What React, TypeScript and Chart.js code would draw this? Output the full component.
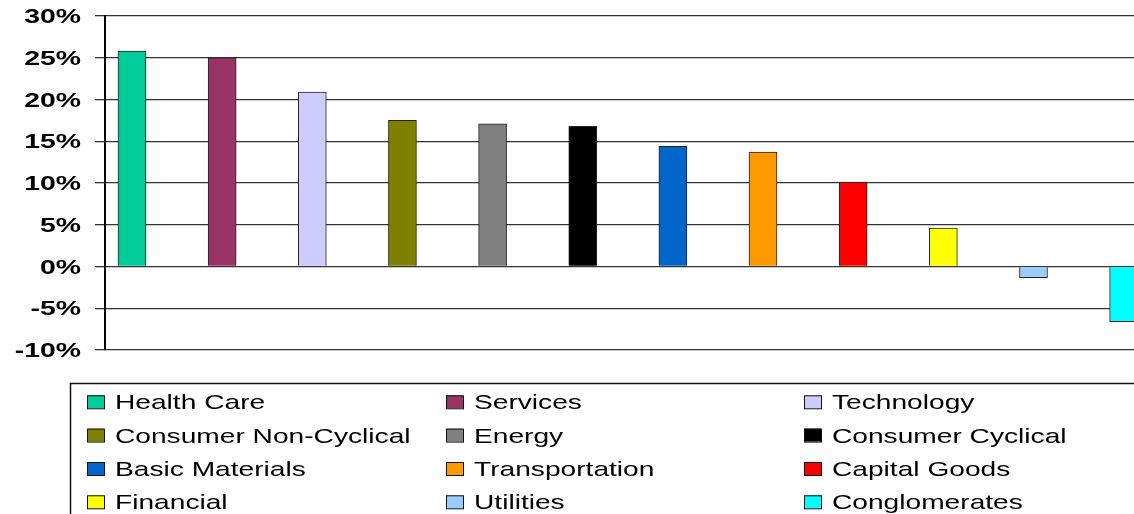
import React, { useEffect, useRef } from "react";
import { Chart, registerables } from "chart.js";

Chart.register(...registerables);

const sectors = [
  "Health Care",
  "Services",
  "Technology",
  "Consumer Non-Cyclical",
  "Energy",
  "Consumer Cyclical",
  "Basic Materials",
  "Transportation",
  "Capital Goods",
  "Financial",
  "Utilities",
  "Conglomerates",
];
const returns = [25.8, 25.0, 20.9, 17.5, 17.1, 16.8, 14.4, 13.7, 10.1, 4.6, -1.35, -6.6];
const colors = [
  "#00CC99",
  "#993366",
  "#CCCCFF",
  "#808000",
  "#808080",
  "#000000",
  "#0066CC",
  "#FF9900",
  "#FF0000",
  "#FFFF00",
  "#99CCFF",
  "#00FFFF",
];
const yTickValues = [30, 25, 20, 15, 10, 5, 0, -5, -10];
const yTickLabels = ["30%", "25%", "20%", "15%", "10%", "5%", "0%", "-5%", "-10%"];

const FONT = '"Liberation Sans", Arial, sans-serif';

const tickLabelPlugin = {
  id: "stretchedTickLabels",
  afterDraw(chart: any) {
    const ctx = chart.ctx;
    const y = chart.scales.y;
    ctx.save();
    ctx.fillStyle = "#000";
    ctx.font = `bold 20px ${FONT}`;
    ctx.textAlign = "right";
    ctx.textBaseline = "alphabetic";
    yTickValues.forEach((v, i) => {
      const py = y.getPixelForValue(v);
      ctx.save();
      ctx.translate(81, py + 7.2);
      ctx.scale(1.42, 1);
      ctx.fillText(yTickLabels[i], 0, 0);
      ctx.restore();
    });
    ctx.restore();
  },
};

const boxLegendPlugin = {
  id: "boxLegend",
  afterDraw(chart: any) {
    const ctx = chart.ctx;
    ctx.save();
    ctx.strokeStyle = "#111";
    ctx.lineWidth = 1.5;
    ctx.strokeRect(70.5, 383.5, 2000, 500);
    const colX = [87, 446, 804];
    const rowBase = [409.3, 442.6, 476, 509.3];
    ctx.font = `21px ${FONT}`;
    ctx.textAlign = "left";
    ctx.textBaseline = "alphabetic";
    chart.data.datasets.forEach((ds: any, i: number) => {
      const c = i % 3;
      const r = Math.floor(i / 3);
      const x = colX[c];
      const b = rowBase[r];
      ctx.fillStyle = ds.backgroundColor;
      ctx.fillRect(x, b - 14, 17, 13);
      ctx.strokeStyle = "#111";
      ctx.lineWidth = 1;
      ctx.strokeRect(x + 0.5, b - 13.5, 17, 13);
      ctx.fillStyle = "#000";
      ctx.save();
      ctx.translate(x + 28, b);
      ctx.scale(1.34, 1);
      ctx.fillText(ds.label, 0, 0);
      ctx.restore();
    });
    ctx.restore();
  },
};

export default function App() {
  const canvasRef = useRef<HTMLCanvasElement | null>(null);

  useEffect(() => {
    if (!canvasRef.current) return;
    const datasets = sectors.map((name, i) => ({
      label: name,
      data: [{ x: i, y: returns[i] }],
      backgroundColor: colors[i],
      borderColor: "#222",
      borderWidth: 1,
      barThickness: 28,
      grouped: false,
    }));
    const chart = new Chart(canvasRef.current, {
      type: "bar",
      data: { datasets },
      options: {
        animation: false,
        responsive: true,
        maintainAspectRatio: false,
        layout: { padding: { top: 16, bottom: 164, left: 0, right: 0 } },
        plugins: { legend: { display: false }, tooltip: { enabled: false } },
        scales: {
          x: {
            type: "linear",
            min: -0.2995,
            max: 11.115,
            offset: false,
            bounds: "ticks",
            display: false,
          },
          y: {
            min: -10,
            max: 30,
            afterFit: (scale: any) => {
              scale.width = 105;
            },
            ticks: { stepSize: 5, display: false },
            grid: {
              color: "#333",
              lineWidth: 1.3,
              tickLength: 10,
              tickColor: "#333",
              drawTicks: true,
            },
            border: { display: true, color: "#000", width: 2 },
          },
        },
      },
      plugins: [tickLabelPlugin, boxLegendPlugin],
    } as any);
    return () => chart.destroy();
  }, []);

  return (
    <div style={{ position: "absolute", left: 0, top: 0, width: 1134, height: 514, background: "#fff" }}>
      <canvas ref={canvasRef} />
    </div>
  );
}
